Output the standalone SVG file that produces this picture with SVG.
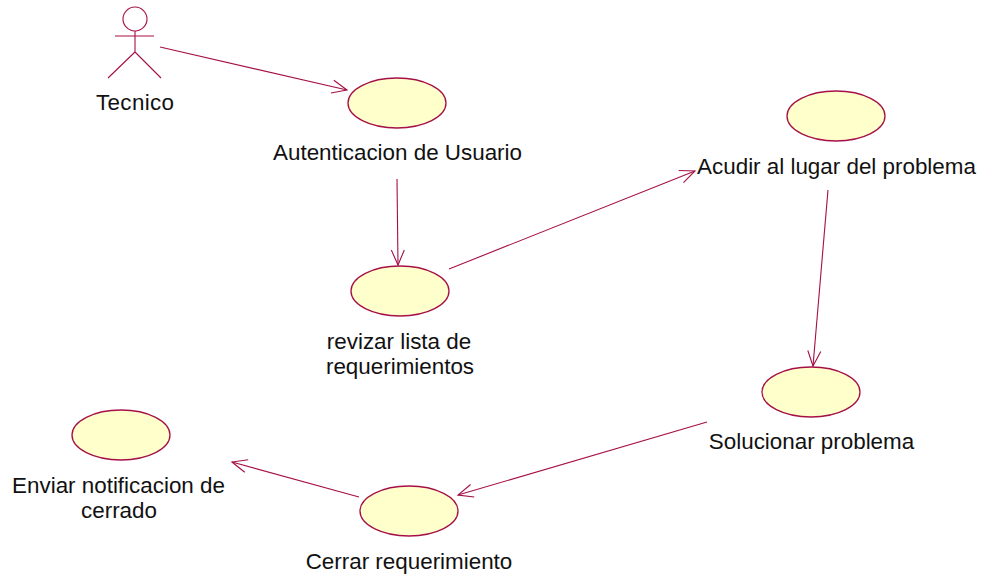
<svg xmlns="http://www.w3.org/2000/svg" width="981" height="577" viewBox="0 0 981 577">
<style>
.u{fill:#ffffcc;stroke:#a50f47;stroke-width:1.3}
.l{fill:none;stroke:#a50f47;stroke-width:1.1}
text{font-family:"Liberation Sans",Arial,sans-serif;font-size:22.4px;fill:#111;text-anchor:middle}
</style>
<defs><marker id="a" markerUnits="userSpaceOnUse" markerWidth="20" markerHeight="20" refX="16" refY="8" orient="auto" viewBox="0 0 20 16"><path d="M1 1.5L16 8L1 14.5" fill="none" stroke="#a50f47" stroke-width="1.1"/></marker></defs>
<rect width="981" height="577" fill="#fff"/>
<g id="connectors">
<path class="l" marker-end="url(#a)" d="M160 47L347 90"/>
<path class="l" marker-end="url(#a)" d="M397 179L398 265"/>
<path class="l" marker-end="url(#a)" d="M449 269L695 171"/>
<path class="l" marker-end="url(#a)" d="M828 190L813 366"/>
<path class="l" marker-end="url(#a)" d="M707 422L458 495"/>
<path class="l" marker-end="url(#a)" d="M359 497L232 462"/>
</g>
<g id="tecnico"><circle class="l" cx="135" cy="19" r="12"/><path class="l" d="M135 31V52M115 36H154M135 52L108 78M135 52L161 78"/><text x="135" y="110" textLength="78">Tecnico</text></g>
<g id="autenticacion"><ellipse class="u" cx="397" cy="103" rx="49" ry="25"/><text x="397.500" y="160">Autenticacion de Usuario</text></g>
<g id="revizar"><ellipse class="u" cx="400" cy="291" rx="49" ry="25"/><text x="399" y="349">revizar lista de</text><text x="400" y="374">requerimientos</text></g>
<g id="acudir"><ellipse class="u" cx="836" cy="116" rx="49" ry="25"/><text x="836.500" y="174">Acudir al lugar del problema</text></g>
<g id="solucionar"><ellipse class="u" cx="811" cy="392" rx="49" ry="25"/><text x="811.500" y="449">Solucionar problema</text></g>
<g id="cerrar"><ellipse class="u" cx="409" cy="511" rx="49" ry="25"/><text x="409" y="569">Cerrar requerimiento</text></g>
<g id="enviar"><ellipse class="u" cx="121" cy="435" rx="49" ry="25"/><text x="118.500" y="493">Enviar notificacion de</text><text x="119" y="518">cerrado</text></g>
</svg>
